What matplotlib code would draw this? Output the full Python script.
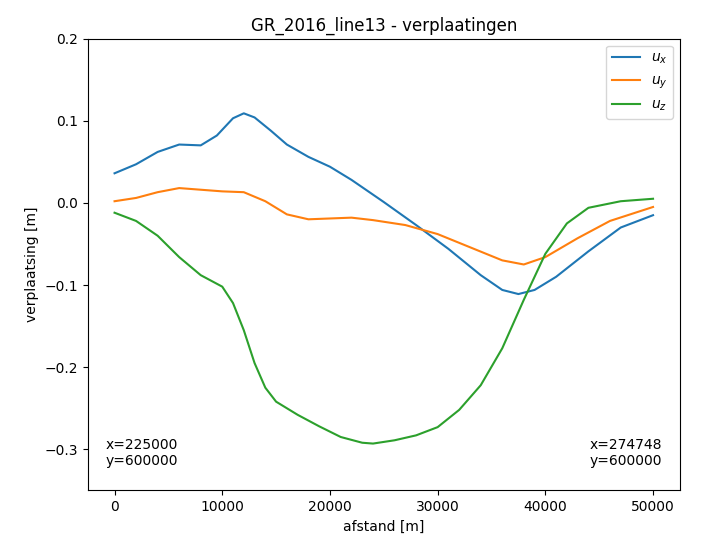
import matplotlib
matplotlib.use("Agg")
import matplotlib.pyplot as plt

# afstand [m] and displacements [m]
x_ux = [0, 2000, 4000, 6000, 8000, 9500, 11000, 12000, 13000, 14500, 16000, 18000, 20000, 22000, 25000, 28000, 31000, 34000, 36000, 37500, 39000, 41000, 44000, 47000, 50000]
ux = [0.036, 0.047, 0.062, 0.071, 0.070, 0.082, 0.103, 0.109, 0.104, 0.088, 0.071, 0.056, 0.044, 0.028, 0.001, -0.027, -0.056, -0.088, -0.106, -0.111, -0.106, -0.090, -0.059, -0.030, -0.015]
x_uy = [0, 2000, 4000, 6000, 8000, 10000, 12000, 14000, 16000, 18000, 20000, 22000, 24000, 27000, 30000, 33000, 36000, 38000, 40000, 43000, 46000, 50000]
uy = [0.002, 0.006, 0.013, 0.018, 0.016, 0.014, 0.013, 0.002, -0.014, -0.020, -0.019, -0.018, -0.021, -0.027, -0.038, -0.054, -0.070, -0.075, -0.066, -0.043, -0.022, -0.005]
x_uz = [0, 2000, 4000, 6000, 8000, 10000, 11000, 12000, 13000, 14000, 15000, 17000, 19000, 21000, 23000, 24000, 26000, 28000, 30000, 32000, 34000, 36000, 38000, 40000, 42000, 44000, 47000, 50000]
uz = [-0.012, -0.022, -0.040, -0.066, -0.088, -0.102, -0.122, -0.155, -0.195, -0.225, -0.242, -0.258, -0.272, -0.285, -0.292, -0.293, -0.289, -0.283, -0.273, -0.252, -0.222, -0.177, -0.118, -0.062, -0.025, -0.006, 0.002, 0.005]

fig, ax = plt.subplots(figsize=(7.01, 5.51), dpi=100)
ax.plot(x_ux, ux, color="#1f77b4", label="$u_x$")
ax.plot(x_uy, uy, color="#ff7f0e", label="$u_y$")
ax.plot(x_uz, uz, color="#2ca02c", label="$u_z$")
ax.set_xlim(-2500, 52500)
ax.set_ylim(-0.35, 0.2)
ax.set_yticks([-0.3, -0.2, -0.1, 0.0, 0.1, 0.2])
ax.set_xlabel("afstand [m]")
ax.set_ylabel("verplaatsing [m]")
ax.set_title("GR_2016_line13 - verplaatingen")
ax.legend(loc="upper right")
ax.text(0.03, 0.05, "x=225000\ny=600000", transform=ax.transAxes, ha="left", va="bottom")
ax.text(0.97, 0.05, "x=274748\ny=600000", transform=ax.transAxes, ha="right", va="bottom")
fig.subplots_adjust(left=0.125, right=0.97, top=0.93, bottom=0.11)
fig.savefig("out.png")
